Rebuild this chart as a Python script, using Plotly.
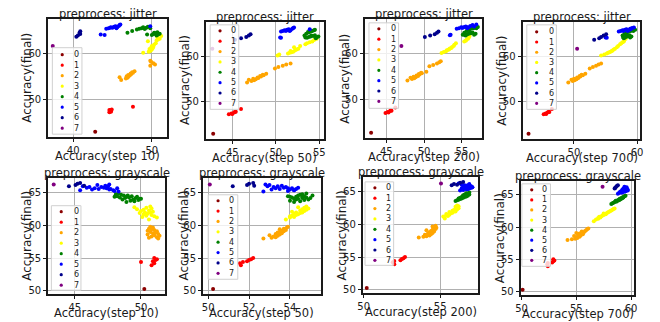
import plotly.graph_objects as go

CLASSES = ['0', '1', '2', '3', '4', '5', '6', '7']
COLORS = ['darkred', 'red', 'orange', 'yellow', 'green', 'blue', 'darkblue', 'purple']

# ---------------- preprocess: jitter ----------------
jitter_final = [
    [42.8],
    [47.1, 47.3, 47.5, 47.7, 47.2, 47.6, 48.3],
    [54.2, 54.5, 54.7, 54.9, 55.0, 55.2, 55.3, 55.5, 55.6, 55.8, 55.9, 56.1, 54.8, 57.3, 57.6, 57.9, 58.2, 58.4],
    [60.2, 60.4, 60.6, 60.8, 60.9, 61.0, 61.2, 61.3, 61.5, 61.7, 62.0, 62.3, 62.7, 62.9, 63.1, 63.3, 63.6, 63.9],
    [64.6, 65.0, 65.3, 65.5, 65.6, 65.8, 65.4, 65.7, 65.9, 65.6, 64.2, 64.1, 64.3, 64.4, 64.5, 64.7, 64.2, 64.4, 64.6, 64.0],
    [64.2, 65.5, 65.6, 65.8, 65.7, 65.9, 66.0, 65.6, 65.8, 66.1, 66.3, 66.4, 65.7, 65.9, 66.0, 64.1],
    [63.7, 64.0, 64.3, 64.6, 64.9],
    [61.7],
]
jitter_step10 = [
    [42.8],
    [44.6, 44.8, 44.7, 44.9, 44.8, 44.6, 47.6],
    [46.1, 46.7, 46.9, 47.0, 46.8, 47.2, 47.0, 47.4, 47.3, 47.6, 47.5, 47.8, 45.9, 49.8, 50.4, 50.2, 49.9, 49.8],
    [48.9, 49.6, 49.8, 49.9, 50.0, 49.7, 50.1, 49.9, 50.2, 50.0, 50.3, 50.5, 49.5, 50.6, 50.8, 51.0, 50.7, 51.2],
    [46.9, 47.5, 48.1, 48.4, 48.7, 48.9, 49.1, 49.3, 49.5, 49.8, 49.4, 50.0, 50.2, 50.4, 50.5, 50.7, 50.8, 51.0, 50.3, 50.6],
    [43.5, 44.2, 44.5, 44.8, 45.0, 45.2, 45.4, 45.5, 45.6, 45.8, 45.9, 46.0, 44.7, 45.3, 49.8, 44.0],
    [40.4, 40.6, 40.9, 40.8, 40.9],
    [37.4],
]
jitter_step50 = [
    [42.8],
    [44.6, 44.9, 45.2, 45.4, 45.0, 45.3, 46.0],
    [46.7, 47.2, 47.5, 47.7, 47.4, 48.0, 47.9, 48.3, 48.2, 48.6, 48.5, 48.9, 46.9, 49.9, 50.3, 50.8, 51.2, 51.7],
    [50.2, 50.4, 51.4, 51.6, 51.8, 52.0, 51.7, 52.2, 52.4, 52.6, 52.1, 52.8, 53.4, 53.6, 53.9, 54.2, 54.4, 54.7],
    [53.3, 53.5, 53.8, 54.0, 54.2, 54.4, 53.7, 54.1, 54.5, 53.9, 53.4, 53.6, 53.8, 54.0, 54.3, 54.5, 54.7, 54.9, 54.1, 54.6],
    [50.5, 50.6, 50.8, 51.0, 51.2, 51.3, 51.5, 51.6, 51.7, 51.9, 52.0, 52.1, 51.1, 51.4, 53.9, 50.6],
    [45.3, 46.0, 46.6, 46.9, 47.1],
    [42.7],
]
jitter_step200 = [
    [43.0],
    [44.9, 45.2, 45.5, 45.6, 45.3, 45.7, 46.2],
    [47.8, 48.4, 48.7, 48.9, 48.6, 49.2, 49.0, 49.4, 49.3, 49.7, 49.6, 50.3, 48.2, 50.7, 51.2, 51.7, 52.0, 52.2],
    [52.3, 52.6, 52.9, 53.0, 53.2, 53.3, 53.4, 53.6, 53.7, 53.9, 54.0, 54.2, 55.3, 55.5, 55.6, 55.8, 55.9, 56.0],
    [55.3, 55.6, 55.9, 56.2, 56.5, 56.8, 56.0, 56.6, 57.1, 56.9, 55.1, 55.4, 55.7, 55.9, 56.2, 56.4, 56.6, 56.8, 56.0, 55.5],
    [53.5, 54.3, 54.6, 54.9, 55.1, 55.3, 55.5, 55.7, 55.9, 56.1, 56.4, 56.9, 55.0, 55.6, 56.6, 53.4],
    [50.1, 50.8, 51.4, 51.7, 51.9],
    [47.0],
]
jitter_step700 = [
    [42.8],
    [45.2, 45.5, 45.8, 46.0, 45.6, 46.1, 46.5],
    [49.1, 49.8, 50.1, 50.4, 50.0, 50.7, 50.5, 51.0, 50.9, 51.4, 51.2, 51.8, 49.6, 52.5, 53.0, 53.5, 53.9, 54.3],
    [54.3, 54.8, 55.2, 55.4, 55.6, 55.8, 56.0, 56.1, 56.3, 56.5, 56.8, 57.0, 57.3, 57.5, 57.7, 57.9, 58.0, 58.2],
    [57.7, 58.0, 58.3, 58.6, 58.9, 59.2, 58.5, 59.0, 59.7, 59.4, 57.8, 58.0, 58.2, 58.4, 58.6, 58.8, 58.9, 59.1, 58.3, 57.9],
    [55.0, 57.1, 57.4, 57.7, 57.9, 58.1, 58.3, 58.5, 58.7, 58.9, 59.2, 59.5, 57.8, 58.4, 59.0, 55.2],
    [53.2, 54.0, 54.3, 54.7, 55.1],
    [50.5],
]

# ---------------- preprocess: grayscale ----------------
gray_final = [
    [50.25],
    [53.9, 54.2, 54.5, 54.7, 54.8, 55.0, 54.4],
    [58.0, 58.1, 58.2, 58.3, 58.4, 58.5, 58.6, 58.7, 58.8, 58.9, 59.0, 59.1, 59.2, 59.3, 59.4, 59.5, 59.7, 59.8],
    [60.9, 61.2, 61.3, 61.5, 61.6, 61.7, 61.8, 61.9, 62.0, 62.0, 62.1, 62.2, 62.3, 62.4, 62.5, 62.6, 62.7, 62.8, 62.9, 61.4],
    [63.6, 63.7, 63.8, 63.9, 64.0, 64.0, 64.1, 64.2, 64.2, 64.3, 64.3, 64.4, 64.4, 64.5, 64.5, 64.6, 64.6, 64.7, 64.8, 64.9, 64.1, 64.4],
    [65.2, 65.3, 65.4, 65.5, 65.5, 65.6, 65.6, 65.7, 65.7, 65.8, 65.8, 65.9, 65.9, 66.0, 66.0, 66.1, 66.2, 66.3, 65.4, 65.7],
    [66.0, 66.2, 66.4, 66.5, 66.1],
    [66.3],
]
gray_step10 = [
    [50.25],
    [50.8, 51.0, 50.9, 51.1, 51.2, 51.0, 50.0],
    [51.3, 50.6, 51.2, 50.8, 51.4, 51.0, 50.5, 51.3, 50.9, 51.1, 50.7, 51.2, 50.5, 51.0, 50.8, 50.6, 50.9, 50.7],
    [50.6, 51.2, 50.1, 50.4, 50.8, 50.2, 50.5, 49.9, 50.7, 50.3, 50.9, 50.0, 50.6, 50.2, 49.7, 50.8, 50.4, 49.5, 50.7, 51.0],
    [48.9, 49.5, 49.2, 49.8, 48.6, 49.4, 50.0, 48.8, 49.6, 49.1, 48.4, 49.7, 48.9, 49.3, 48.2, 48.7, 49.0, 48.5, 48.1, 48.3, 49.9, 48.0],
    [48.3, 48.0, 47.9, 47.6, 46.3, 47.7, 46.8, 47.4, 46.5, 47.2, 45.9, 47.0, 46.1, 47.5, 45.6, 47.3, 46.7, 47.6, 45.4, 48.2],
    [44.55, 45.05, 45.2, 45.4, 45.7],
    [43.4],
]
gray_step50 = [
    [50.24],
    [51.6, 51.55, 51.9, 52.0, 52.1, 52.2, 51.7],
    [52.7, 53.1, 53.3, 53.2, 53.4, 53.0, 53.5, 53.3, 53.6, 53.4, 53.5, 53.7, 53.6, 53.8, 53.5, 53.7, 53.85, 53.9],
    [53.8, 54.0, 54.2, 54.1, 54.3, 54.4, 54.2, 54.5, 54.3, 54.6, 54.1, 54.7, 54.5, 54.8, 54.6, 54.9, 54.7, 54.4, 54.8, 54.0],
    [54.2, 54.5, 54.0, 54.7, 54.3, 54.9, 54.4, 55.0, 54.6, 54.1, 54.8, 54.3, 54.6, 53.9, 54.7, 54.4, 55.1, 54.5, 54.6, 54.8, 54.2, 54.0],
    [52.7, 53.9, 54.2, 54.0, 53.1, 54.3, 53.5, 54.1, 53.3, 54.4, 53.7, 53.2, 53.8, 52.9, 53.4, 53.6, 53.0, 52.8, 54.2, 53.9],
    [51.2, 51.9, 52.0, 52.2, 52.25],
    [50.08],
]
gray_step200 = [
    [50.2],
    [52.0, 51.9, 52.4, 52.5, 52.6, 52.7, 52.0],
    [53.6, 53.9, 54.1, 54.3, 54.0, 54.4, 54.2, 54.5, 54.3, 54.6, 54.4, 54.1, 54.5, 54.7, 54.6, 54.75, 54.5, 54.7],
    [55.3, 55.2, 55.5, 55.6, 55.4, 55.7, 55.8, 55.6, 55.9, 56.0, 55.8, 55.9, 56.1, 56.0, 56.2, 56.1, 56.0, 56.2, 56.1, 55.4],
    [56.0, 56.1, 56.2, 56.3, 56.4, 56.2, 56.5, 56.4, 56.6, 56.5, 56.7, 56.6, 56.8, 56.7, 56.5, 56.9, 56.6, 56.8, 56.7, 56.9, 56.3, 56.5],
    [56.3, 56.5, 56.7, 56.9, 56.4, 57.0, 56.6, 56.8, 57.1, 56.5, 56.9, 56.7, 57.0, 56.6, 56.8, 56.4, 56.9, 56.2, 56.8, 57.1],
    [55.75, 55.9, 56.3, 56.5, 56.1],
    [55.05],
]
gray_step700 = [
    [50.1],
    [52.4, 52.35, 52.8, 52.9, 53.0, 52.9, 52.4],
    [54.2, 54.6, 54.9, 55.1, 55.0, 55.3, 54.8, 55.4, 55.2, 55.6, 55.3, 55.0, 55.7, 55.5, 55.8, 55.9, 56.0, 56.1],
    [56.6, 56.8, 57.0, 57.2, 57.1, 57.3, 57.4, 57.5, 57.6, 57.7, 57.5, 57.8, 57.9, 58.0, 58.1, 58.2, 58.3, 58.4, 58.5, 57.0],
    [58.2, 58.3, 58.4, 58.5, 58.6, 58.7, 58.7, 58.8, 58.9, 58.9, 59.0, 59.0, 59.1, 59.1, 59.2, 59.2, 59.3, 59.3, 59.4, 59.5, 58.6, 59.0],
    [58.8, 58.9, 59.2, 59.0, 59.4, 59.1, 59.5, 59.3, 59.6, 59.2, 59.7, 59.4, 59.5, 59.3, 59.6, 59.5, 59.6, 59.4, 59.1, 59.7],
    [58.5, 58.6, 58.7, 58.8, 58.55],
    [57.4],
]

W, H = 660, 322
FONT = 'DejaVu Sans'
TXT = '#1a1a1a'

# panel layout (pixels): plot box, x range, tick step, legend box etc.
panels = [
    dict(name='jitter', step='10', xs=jitter_step10, ys=jitter_final, box=(43, 163, 19, 138),
         xr=(36.85, 51.9), yr=(41.6, 67.65), dx=10, dy=10, leg=(47, 77, 48, 135, 57, 71, 55, 129), ytx=21),
    dict(name='jitter', step='50', xs=jitter_step50, ys=jitter_final, box=(203, 322, 22, 140),
         xr=(42.0, 55.5), yr=(41.6, 67.65), dx=5, dy=10, leg=(207, 236, 25, 110, 217, 231, 31, 104), ytx=182),
    dict(name='jitter', step='200', xs=jitter_step200, ys=jitter_final, box=(364, 483, 19, 139),
         xr=(42.2, 57.7), yr=(41.6, 67.65), dx=5, dy=10, leg=(368, 398, 23, 109, 378, 393, 29, 102), ytx=343),
    dict(name='jitter', step='700', xs=jitter_step700, ys=jitter_final, box=(524, 643, 22, 140),
         xr=(41.9, 60.5), yr=(41.6, 67.65), dx=10, dy=10, leg=(528, 558, 25, 110, 538, 553, 32, 104), ytx=503),
    dict(name='grayscale', step='10', xs=gray_step10, ys=gray_final, box=(43, 161, 179, 296),
         xr=(43.0, 51.8), yr=(49.45, 67.3), dx=5, dy=5, leg=(46, 76, 207, 292, 56, 71, 213, 287), ytx=21),
    dict(name='grayscale', step='50', xs=gray_step50, ys=gray_final, box=(200, 319, 179, 296),
         xr=(49.76, 55.5), yr=(49.45, 67.3), dx=2, dy=5, leg=(205, 235, 196, 281, 215, 229, 202, 275), ytx=180),
    dict(name='grayscale', step='200', xs=gray_step200, ys=gray_final, box=(362, 479, 178, 295),
         xr=(49.96, 57.5), yr=(49.45, 67.3), dx=5, dy=5, leg=(364, 393, 183, 267, 374, 388, 189, 262), ytx=341),
    dict(name='grayscale', step='700', xs=gray_step700, ys=gray_final, box=(522, 637, 182, 297),
         xr=(49.94, 60.3), yr=(49.4, 67.2), dx=5, dy=5, leg=(523, 552, 185, 268, 533, 546, 191, 262), ytx=501),
]


def px(x):
    return x / W


def py(y):
    return 1 - y / H


fig = go.Figure()
shapes = []
annotations = []

for i, p in enumerate(panels):
    n = '' if i == 0 else str(i + 1)
    xa, ya = 'x' + n, 'y' + n
    x0, x1, y0, y1 = p['box']
    for c in range(8):
        fig.add_trace(go.Scatter(
            x=p['xs'][c], y=p['ys'][c], mode='markers', xaxis=xa, yaxis=ya,
            marker=dict(color=COLORS[c], size=4, line=dict(width=0)),
            name=CLASSES[c], showlegend=False, hoverinfo='skip'))
    axis_common = dict(showline=True, mirror=True, linecolor=TXT, linewidth=1.5,
                       showgrid=True, gridcolor='#b0b0b0', gridwidth=1, zeroline=False,
                       ticks='outside', ticklen=3.5, tickwidth=0.8, tickcolor=TXT,
                       tickfont=dict(family=FONT, size=10, color=TXT))
    fig.update_layout(**{
        'xaxis' + n: dict(domain=[px(x0), px(x1)], anchor=ya, range=list(p['xr']),
                          dtick=p['dx'], tick0=0, **axis_common),
        'yaxis' + n: dict(domain=[py(y1), py(y0)], anchor=xa, range=list(p['yr']),
                          dtick=p['dy'], tick0=0, **axis_common),
    })
    cx = (x0 + x1) / 2
    annotations.append(dict(text='preprocess: ' + p['name'], x=px(cx), y=py(y0 - 4.5),
                            xref='paper', yref='paper', xanchor='center', yanchor='middle',
                            showarrow=False, font=dict(family=FONT, size=11.5, color=TXT)))
    annotations.append(dict(text='Accuracy(step ' + p['step'] + ')', x=px(cx), y=py(y1 + 19),
                            xref='paper', yref='paper', xanchor='center', yanchor='middle',
                            showarrow=False, font=dict(family=FONT, size=11.5, color=TXT)))
    annotations.append(dict(text='Accuracy(final)', x=px(p['ytx']), y=py((y0 + y1) / 2),
                            xref='paper', yref='paper', xanchor='center', yanchor='middle',
                            textangle=-90, showarrow=False,
                            font=dict(family=FONT, size=12, color=TXT)))
    # legend box
    lx0, lx1, ly0, ly1, mx, tx, iy0, iy7 = p['leg']
    shapes.append(dict(type='rect', xref='paper', yref='paper', x0=px(lx0), x1=px(lx1),
                       y0=py(ly1), y1=py(ly0), fillcolor='rgba(255,255,255,0.8)',
                       line=dict(color='#d0d0d0', width=1), layer='above'))
    for c in range(8):
        iy = iy0 + (iy7 - iy0) * c / 7
        shapes.append(dict(type='circle', xref='paper', yref='paper', xsizemode='pixel',
                           ysizemode='pixel', xanchor=px(mx), yanchor=py(iy),
                           x0=-1.6, x1=1.6, y0=-1.6, y1=1.6, fillcolor=COLORS[c],
                           line=dict(width=0), layer='above'))
        annotations.append(dict(text=CLASSES[c], x=px(tx), y=py(iy), xref='paper', yref='paper',
                                xanchor='center', yanchor='middle', showarrow=False,
                                font=dict(family=FONT, size=8, color=TXT)))

fig.update_layout(width=W, height=H, margin=dict(l=0, r=0, t=0, b=0),
                  paper_bgcolor='white', plot_bgcolor='white', showlegend=False,
                  shapes=shapes, annotations=annotations,
                  font=dict(family=FONT, color=TXT))

fig.write_html('out.html', config={'displayModeBar': False},
               post_script="document.body.style.margin='0px';document.body.style.padding='0px';")
